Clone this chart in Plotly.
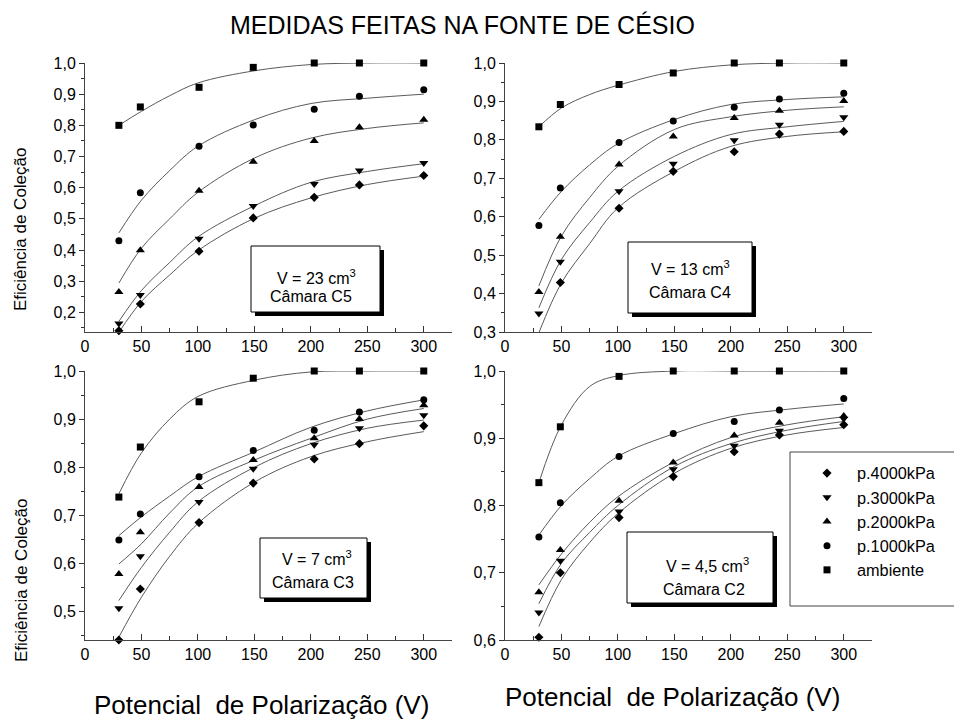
import plotly.graph_objects as go

# ---------------- data ----------------
V = [30, 49, 101, 149, 203, 243, 300]          # measured polarization voltages
CURVE_V = [30, 50, 75, 100, 150, 200, 250, 300]  # where the fitted curves were read

SERIES = ["p.4000kPa", "p.3000kPa", "p.2000kPa", "p.1000kPa", "ambiente"]
SYMBOLS = ["diamond", "triangle-down", "triangle-up", "circle", "square"]

# Camara C5 (V = 23 cm3)
c5_4000 = [0.141, 0.227, 0.396, 0.503, 0.569, 0.609, 0.639]
c5_3000 = [0.164, 0.256, 0.436, 0.541, 0.612, 0.655, 0.679]
c5_2000 = [0.265, 0.399, 0.590, 0.683, 0.750, 0.794, 0.818]
c5_1000 = [0.430, 0.584, 0.733, 0.801, 0.852, 0.893, 0.914]
c5_amb = [0.800, 0.859, 0.922, 0.986, 1.000, 1.000, 1.000]
c5_fit_4000 = [0.136, 0.235, 0.320, 0.398, 0.502, 0.567, 0.610, 0.637]
c5_fit_3000 = [0.171, 0.270, 0.360, 0.442, 0.542, 0.617, 0.652, 0.677]
c5_fit_2000 = [0.294, 0.406, 0.500, 0.585, 0.695, 0.759, 0.790, 0.808]
c5_fit_1000 = [0.455, 0.560, 0.655, 0.733, 0.818, 0.870, 0.887, 0.900]
c5_fit_amb = [0.800, 0.845, 0.895, 0.936, 0.975, 0.995, 1.000, 1.000]

# Camara C4 (V = 13 cm3)
c4_4000 = [0.295, 0.429, 0.622, 0.718, 0.769, 0.815, 0.822]
c4_3000 = [0.348, 0.483, 0.666, 0.738, 0.799, 0.839, 0.859]
c4_2000 = [0.404, 0.548, 0.736, 0.809, 0.857, 0.876, 0.901]
c4_1000 = [0.577, 0.675, 0.793, 0.849, 0.885, 0.906, 0.921]
c4_amb = [0.834, 0.892, 0.944, 0.974, 1.000, 1.000, 1.000]
c4_fit_4000 = [0.298, 0.428, 0.530, 0.623, 0.718, 0.783, 0.809, 0.821]
c4_fit_3000 = [0.363, 0.489, 0.585, 0.666, 0.757, 0.814, 0.834, 0.848]
c4_fit_2000 = [0.420, 0.550, 0.650, 0.731, 0.827, 0.860, 0.877, 0.886]
c4_fit_1000 = [0.593, 0.666, 0.735, 0.790, 0.853, 0.892, 0.905, 0.912]
c4_fit_amb = [0.834, 0.883, 0.918, 0.942, 0.978, 0.995, 1.000, 1.000]

# Camara C3 (V = 7 cm3)
c3_4000 = [0.441, 0.547, 0.685, 0.767, 0.817, 0.849, 0.886]
c3_3000 = [0.507, 0.615, 0.728, 0.797, 0.847, 0.881, 0.908]
c3_2000 = [0.578, 0.665, 0.759, 0.815, 0.860, 0.900, 0.929]
c3_1000 = [0.649, 0.703, 0.780, 0.835, 0.877, 0.915, 0.940]
c3_amb = [0.738, 0.842, 0.936, 0.985, 1.000, 1.000, 1.000]
c3_fit_4000 = [0.447, 0.530, 0.615, 0.683, 0.769, 0.822, 0.853, 0.874]
c3_fit_3000 = [0.523, 0.592, 0.665, 0.728, 0.800, 0.849, 0.881, 0.898]
c3_fit_2000 = [0.599, 0.641, 0.705, 0.759, 0.815, 0.860, 0.900, 0.922]
c3_fit_1000 = [0.658, 0.697, 0.740, 0.780, 0.832, 0.883, 0.917, 0.940]
c3_fit_amb = [0.745, 0.830, 0.900, 0.947, 0.981, 0.998, 1.000, 1.000]

# Camara C2 (V = 4,5 cm3)
c2_4000 = [0.604, 0.700, 0.782, 0.843, 0.880, 0.905, 0.920]
c2_3000 = [0.641, 0.718, 0.791, 0.854, 0.889, 0.911, 0.929]
c2_2000 = [0.671, 0.734, 0.807, 0.864, 0.904, 0.923, 0.933]
c2_1000 = [0.753, 0.804, 0.873, 0.907, 0.925, 0.942, 0.959]
c2_amb = [0.834, 0.917, 0.992, 1.000, 1.000, 1.000, 1.000]
c2_fit_4000 = [0.620, 0.690, 0.745, 0.788, 0.848, 0.885, 0.905, 0.916]
c2_fit_3000 = [0.654, 0.714, 0.760, 0.800, 0.858, 0.892, 0.912, 0.925]
c2_fit_2000 = [0.682, 0.728, 0.775, 0.813, 0.865, 0.901, 0.920, 0.932]
c2_fit_1000 = [0.756, 0.800, 0.840, 0.873, 0.907, 0.932, 0.943, 0.951]
c2_fit_amb = [0.834, 0.920, 0.977, 0.993, 1.000, 1.000, 1.000, 1.000]

PANELS = [
    dict(pts=[c5_4000, c5_3000, c5_2000, c5_1000, c5_amb],
         fit=[c5_fit_4000, c5_fit_3000, c5_fit_2000, c5_fit_1000, c5_fit_amb],
         yrange=[0.137, 1.0], tick0=0.2, label=("V = 23 cm<sup>3</sup>", "Câmara C5")),
    dict(pts=[c4_4000, c4_3000, c4_2000, c4_1000, c4_amb],
         fit=[c4_fit_4000, c4_fit_3000, c4_fit_2000, c4_fit_1000, c4_fit_amb],
         yrange=[0.3, 1.0], tick0=0.3, label=("V = 13 cm<sup>3</sup>", "Câmara C4")),
    dict(pts=[c3_4000, c3_3000, c3_2000, c3_1000, c3_amb],
         fit=[c3_fit_4000, c3_fit_3000, c3_fit_2000, c3_fit_1000, c3_fit_amb],
         yrange=[0.441, 1.0], tick0=0.5, label=("V = 7 cm<sup>3</sup>", "Câmara C3")),
    dict(pts=[c2_4000, c2_3000, c2_2000, c2_1000, c2_amb],
         fit=[c2_fit_4000, c2_fit_3000, c2_fit_2000, c2_fit_1000, c2_fit_amb],
         yrange=[0.6, 1.0], tick0=0.6, label=("V = 4,5 cm<sup>3</sup>", "Câmara C2")),
]
X_TICKS = [0, 50, 100, 150, 200, 250, 300]

# ---------------- layout helpers ----------------
W, H = 954, 720
FONT = "Liberation Sans, Arial, sans-serif"


def px(x):
    return x / W


def py(y):
    return 1 - y / H


# plot areas in pixels: (left, right, top, bottom)
AREAS = [(85, 452, 63, 332), (505, 872, 63, 332),
         (85, 452, 371, 640), (505, 872, 371, 640)]
BOXES = [(251, 380, 246, 312), (628, 752, 242, 313),
         (260, 367, 538, 598), (627, 773, 532, 603)]
# label text centres (V line, Camara line)
LABEL_POS = [((316, 277), (311, 296)), ((690, 268), (690, 292)),
             ((317, 558), (313, 582)), ((707, 565), (704, 589))]
MSIZE = {"diamond": 7, "triangle-down": 8, "triangle-up": 8, "circle": 7, "square": 7}

fig = go.Figure()
layout = dict()
shapes = []
annotations = []


def ann(x, y, text, size, **kw):
    d = dict(x=px(x), y=py(y), xref="paper", yref="paper", text=text, showarrow=False,
             xanchor="center", yanchor="middle",
             font=dict(family=FONT, size=size, color="black"))
    d.update(kw)
    return d


for i, p in enumerate(PANELS):
    n = i + 1
    xa = "x" if n == 1 else f"x{n}"
    ya = "y" if n == 1 else f"y{n}"
    for k in range(5):
        fig.add_trace(go.Scatter(x=CURVE_V, y=p["fit"][k], mode="lines",
                                 line=dict(color="#5a5a5a", width=1, shape="spline"),
                                 xaxis=xa, yaxis=ya, showlegend=False,
                                 cliponaxis=False, hoverinfo="skip"))
    for k in range(5):
        fig.add_trace(go.Scatter(x=V, y=p["pts"][k], mode="markers", name=SERIES[k],
                                 marker=dict(symbol=SYMBOLS[k], size=MSIZE[SYMBOLS[k]],
                                             color="black"),
                                 xaxis=xa, yaxis=ya, showlegend=(n == 4),
                                 cliponaxis=False))
    l, r, t, b = AREAS[i]
    layout["xaxis" if n == 1 else f"xaxis{n}"] = dict(
        domain=[px(l), px(r)], anchor=ya, range=[0, 325], tickvals=X_TICKS,
        ticks="inside", ticklen=6, tickcolor="#333", showline=True, linecolor="#444",
        linewidth=1, showgrid=False, zeroline=False, automargin=False,
        minor=dict(tickvals=[25, 75, 125, 175, 225, 275, 325], ticks="inside",
                   ticklen=4, tickcolor="#333"),
        tickfont=dict(family=FONT, size=16, color="black"))
    layout["yaxis" if n == 1 else f"yaxis{n}"] = dict(
        domain=[py(b), py(t)], anchor=xa, range=p["yrange"], tick0=p["tick0"], dtick=0.1,
        tickformat=".1f", ticks="outside", ticklen=5, tickcolor="#333", showline=True,
        linecolor="#444", linewidth=1, showgrid=False, zeroline=False, automargin=False,
        minor=dict(dtick=0.05, ticks="outside", ticklen=3, tickcolor="#333"),
        tickfont=dict(family=FONT, size=16, color="black"))

    bl, br, bt, bb = BOXES[i]
    shapes.append(dict(type="rect", xref="paper", yref="paper",
                       x0=px(bl + 4), x1=px(br + 4), y0=py(bb + 4), y1=py(bt + 4),
                       fillcolor="black", line=dict(width=0)))
    shapes.append(dict(type="rect", xref="paper", yref="paper",
                       x0=px(bl), x1=px(br), y0=py(bb), y1=py(bt),
                       fillcolor="white", line=dict(color="black", width=1)))
    (vx, vy), (cx, cy) = LABEL_POS[i]
    annotations.append(ann(vx, vy, p["label"][0], 16))
    annotations.append(ann(cx, cy, p["label"][1], 16))

# legend box (extends beyond the right edge)
shapes.append(dict(type="rect", xref="paper", yref="paper",
                   x0=px(790), x1=px(970), y0=py(606), y1=py(452),
                   fillcolor="white", line=dict(color="#444", width=1), layer="below"))

# titles
annotations.append(ann(462, 25, "MEDIDAS FEITAS NA FONTE DE CÉSIO", 25))
for yc in (230, 581):
    annotations.append(ann(21, yc, "Eficiência de Coleção", 17, textangle=-90))
annotations.append(ann(261, 705, "Potencial  de Polarização (V)", 26))
annotations.append(ann(672, 697, "Potencial  de Polarização (V)", 26))

fig.update_layout(
    template="none",
    width=W, height=H, margin=dict(l=0, r=0, t=0, b=0, pad=0, autoexpand=False),
    paper_bgcolor="white", plot_bgcolor="white", separators=",.",
    showlegend=True,
    legend=dict(x=px(797), y=py(456), xanchor="left", yanchor="top", itemwidth=50,
                bgcolor="rgba(0,0,0,0)", borderwidth=0, traceorder="normal",
                font=dict(family=FONT, size=16.3, color="black")),
    shapes=shapes, annotations=annotations, **layout)

fig.write_html("out.html")
